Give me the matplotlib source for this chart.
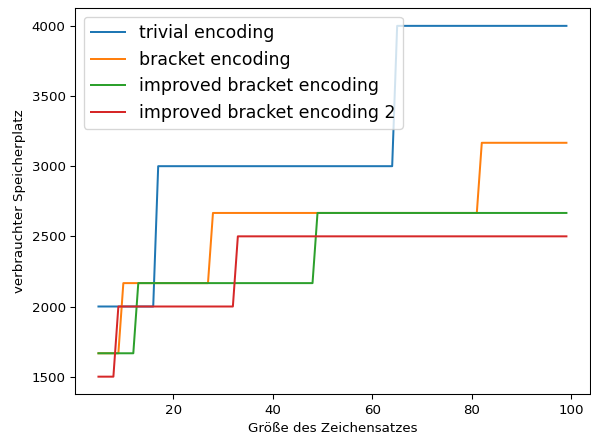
import matplotlib
matplotlib.use('Agg')
import matplotlib.pyplot as plt

# Eckpunkte der Stufen
trivial_x = [5, 16, 17, 64, 65, 99]
trivial_y = [2000, 2000, 3000, 3000, 4000, 4000]

bracket_x = [5, 9, 10, 27, 28, 81, 82, 99]
bracket_y = [1666.67, 1666.67, 2166.67, 2166.67, 2666.67, 2666.67, 3166.67, 3166.67]

improved_x = [5, 12, 13, 48, 49, 99]
improved_y = [1666.67, 1666.67, 2166.67, 2166.67, 2666.67, 2666.67]

improved2_x = [5, 8, 9, 32, 33, 99]
improved2_y = [1500, 1500, 2000, 2000, 2500, 2500]

fig, ax = plt.subplots(figsize=(591 / 96, 438 / 96), dpi=96)
ax.plot(trivial_x, trivial_y, label='trivial encoding')
ax.plot(bracket_x, bracket_y, label='bracket encoding')
ax.plot(improved_x, improved_y, label='improved bracket encoding')
ax.plot(improved2_x, improved2_y, label='improved bracket encoding 2')

ax.set_xlabel('Größe des Zeichensatzes')
ax.set_ylabel('verbrauchter Speicherplatz')
ax.legend(loc='upper left', fontsize=13)

plt.subplots_adjust(left=0.127, right=0.998, top=0.981, bottom=0.1)
plt.savefig('out.png')
